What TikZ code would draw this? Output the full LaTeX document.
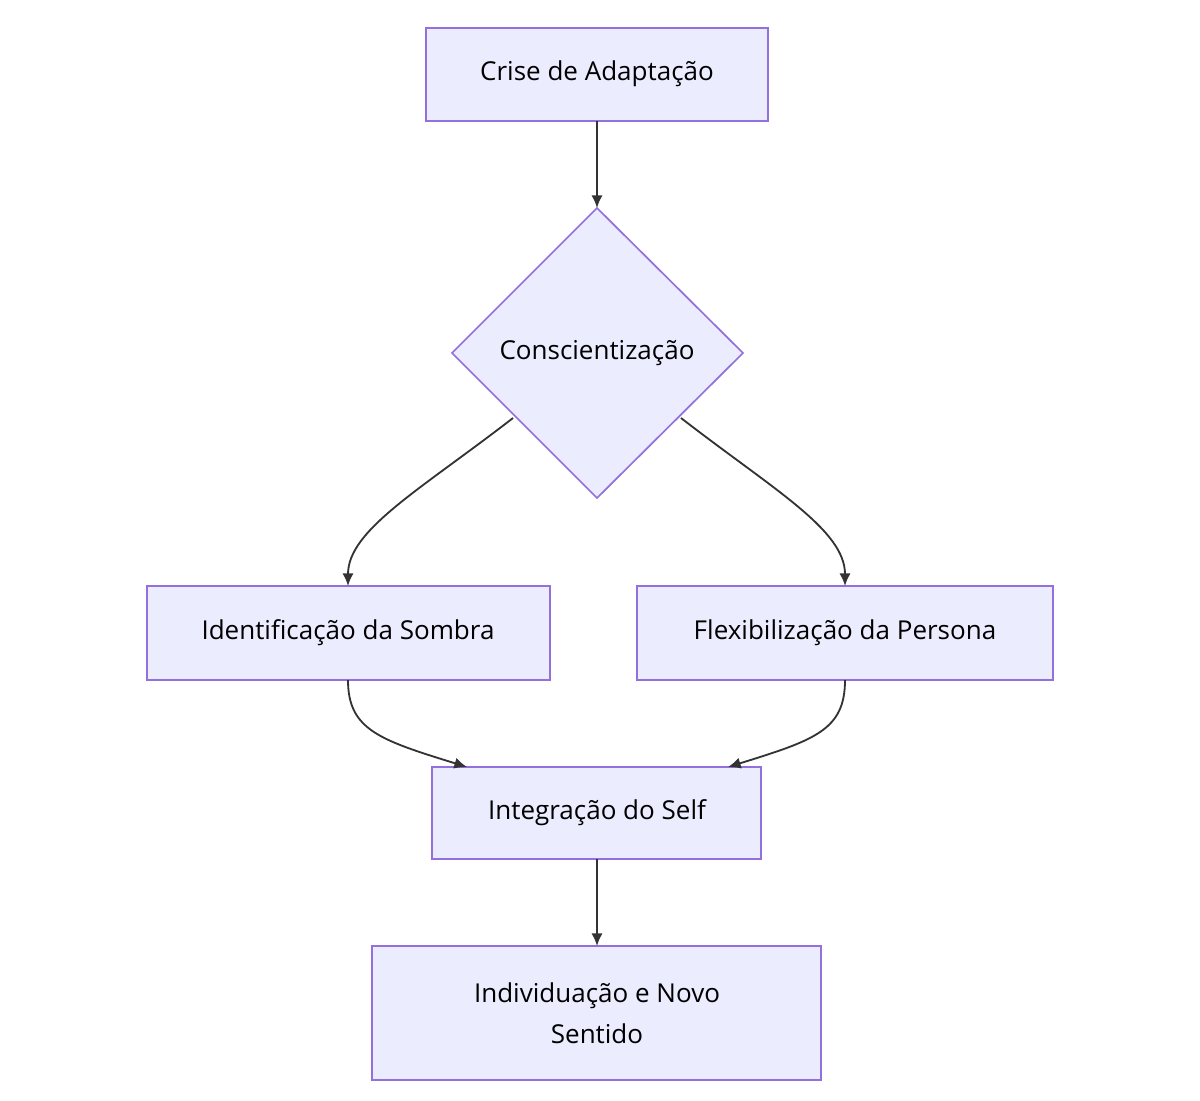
\documentclass[tikz,border=0pt]{standalone}
\usepackage{fontspec}
\setmainfont{Open Sans}
\usetikzlibrary{arrows.meta}
\definecolor{nfill}{HTML}{ECECFF}
\definecolor{nline}{HTML}{9370DB}
\definecolor{eline}{HTML}{333333}
\begin{document}
\begin{tikzpicture}[x=0.025cm,y=-0.025cm,
  box/.style={draw=nline,fill=nfill,line width=1.2pt},
  lbl/.style={font=\fontsize{18.5}{29}\selectfont,align=center,text=black},
  edge/.style={draw=eline,line width=1.3pt,-{Latex[length=9pt,width=8pt]}}]
\useasboundingbox (0,0) rectangle (1200,1100);
\fill[white] (0,0) rectangle (1200,1100);
\draw[box] (426,28) rectangle (768,121);
\node[lbl] (a) at (597,74) {Crise de Adaptação};
\coordinate (ab) at (597,121);
\draw[box] (597,208) -- (743,353) -- (597,498) -- (452,353) -- cycle;
\node[lbl] (b) at (597,353) {Conscientização};
\coordinate (bt) at (597,208);
\coordinate (bl) at (513,418);
\coordinate (br) at (681,418);
\draw[box] (147,586) rectangle (550,680);
\node[lbl] (c) at (348,633) {Identificação da Sombra};
\coordinate (ct) at (348,586); \coordinate (cb) at (348,680);
\draw[box] (637,586) rectangle (1053,680);
\node[lbl] (d) at (845,633) {Flexibilização da Persona};
\coordinate (dt) at (845,586); \coordinate (db) at (845,680);
\draw[box] (432,767) rectangle (761,859);
\node[lbl] (e) at (597,813) {Integração do Self};
\coordinate (el) at (467,767); \coordinate (er) at (728,767); \coordinate (eb) at (597,859);
\draw[box] (372,946) rectangle (821,1080);
\node[lbl] (f) at (597,1013) {Individuação e Novo\\Sentido};
\coordinate (ft) at (597,946);
\draw[edge] (ab) -- (bt);
\draw[edge] (bl) .. controls (420,490) and (348,530) .. (ct);
\draw[edge] (br) .. controls (774,490) and (845,530) .. (dt);
\draw[edge] (cb) .. controls (348,730) and (380,740) .. (el);
\draw[edge] (db) .. controls (845,730) and (815,740) .. (er);
\draw[edge] (eb) -- (ft);
\end{tikzpicture}
\end{document}
